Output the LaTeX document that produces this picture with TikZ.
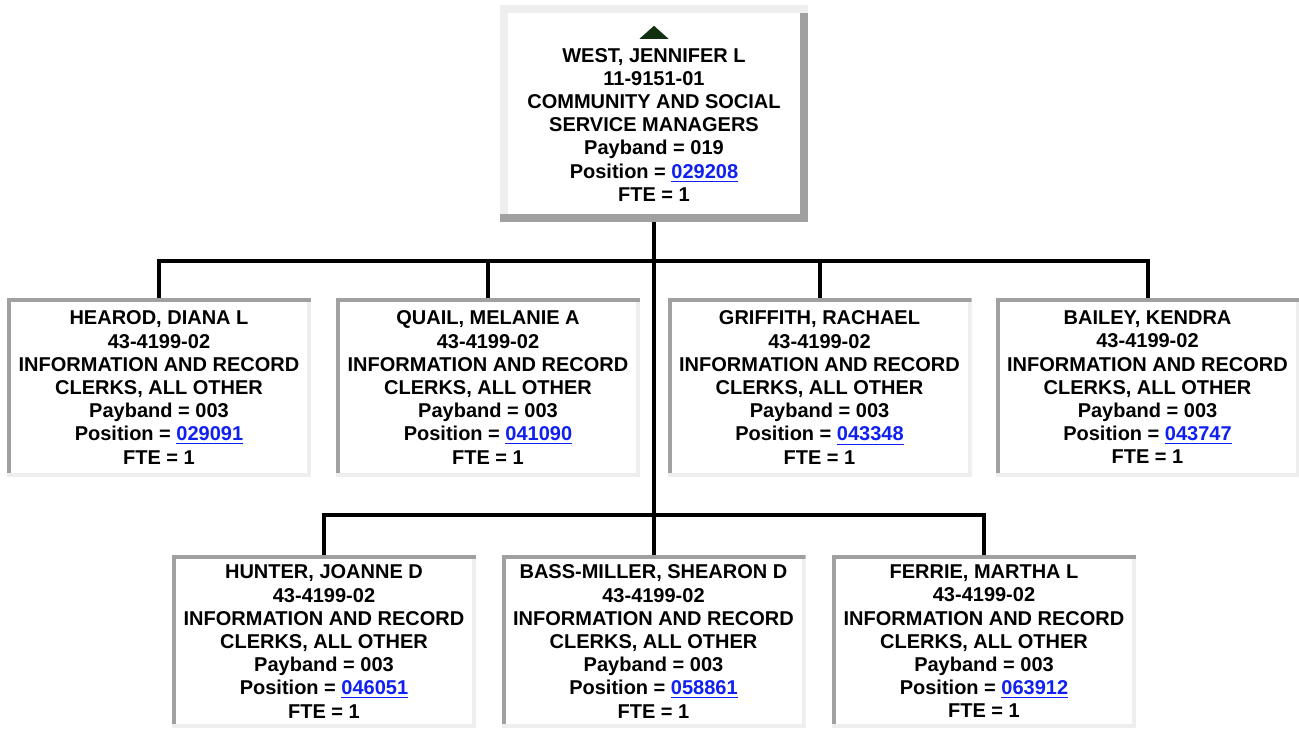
\documentclass[tikz,border=0pt]{standalone}
\usepackage{fontspec}
\setmainfont{Liberation Sans}
\usetikzlibrary{positioning}

\definecolor{bevdark}{RGB}{160,160,160}
\definecolor{bevlight}{RGB}{238,238,238}
\definecolor{linkblue}{RGB}{16,32,240}
\definecolor{markgreen}{RGB}{16,48,16}

\newcommand{\poslink}[1]{\textcolor{linkblue}{\underline{#1}}}
\newcommand{\boxfont}{\bfseries\fontsize{10}{11.6}\selectfont}

% bevelled border: top/left colour, bottom/right colour, width
\tikzset{bevel/.style n args={3}{path picture={
  \fill[#1] (path picture bounding box.north west) rectangle ([yshift=-#3]path picture bounding box.north east);
  \fill[#1] (path picture bounding box.north west) rectangle ([shift={(#3,#3)}]path picture bounding box.south west);
  \fill[#2] ([yshift=#3]path picture bounding box.south west) rectangle (path picture bounding box.south east);
  \fill[#2] ([shift={(-#3,-#3)}]path picture bounding box.north east) rectangle (path picture bounding box.south east);
}}}

\tikzstyle{manager} = [rectangle, fill=white, bevel={bevlight}{bevdark}{4pt},
minimum width=154pt, minimum height=108.5pt, align=center, inner sep=0pt, font=\boxfont]
\tikzstyle{clerk} = [rectangle, fill=white, bevel={bevdark}{bevlight}{2pt},
minimum width=152pt, minimum height=89.5pt, align=center, inner sep=0pt, font=\boxfont]
\tikzstyle{clerklow} = [clerk, minimum height=86.5pt]
\tikzstyle{line} = [draw, line width=2pt]

\begin{document}
\begin{tikzpicture}[x=0.5pt,y=-0.5pt]

\useasboundingbox (0,0) rectangle (1299,728);

% Top
\node[manager](west) at (654,113.5) {\tikz\fill[markgreen] (0,0) -- (14.5pt,0) -- (7.25pt,6.5pt) -- cycle;\\
WEST, JENNIFER L\\ 11-9151-01\\ COMMUNITY AND SOCIAL\\ SERVICE MANAGERS\\
Payband = 019\\ Position = \poslink{029208}\\ FTE = 1};

% First row of clerks
\node[clerk](hearod) at (159,387.5) {HEAROD, DIANA L\\ 43-4199-02\\ INFORMATION AND RECORD\\ CLERKS, ALL OTHER\\
Payband = 003\\ Position = \poslink{029091}\\ FTE = 1};
\node[clerk](quail) at (488,387.5) {QUAIL, MELANIE A\\ 43-4199-02\\ INFORMATION AND RECORD\\ CLERKS, ALL OTHER\\
Payband = 003\\ Position = \poslink{041090}\\ FTE = 1};
\node[clerk](griffith) at (819.5,387.5) {GRIFFITH, RACHAEL\\ 43-4199-02\\ INFORMATION AND RECORD\\ CLERKS, ALL OTHER\\
Payband = 003\\ Position = \poslink{043348}\\ FTE = 1};
\node[clerk](bailey) at (1147.5,387.5) {BAILEY, KENDRA\\ 43-4199-02\\ INFORMATION AND RECORD\\ CLERKS, ALL OTHER\\
Payband = 003\\ Position = \poslink{043747}\\ FTE = 1};

% Second row of clerks
\node[clerklow](hunter) at (324,641.5) {HUNTER, JOANNE D\\ 43-4199-02\\ INFORMATION AND RECORD\\ CLERKS, ALL OTHER\\
Payband = 003\\ Position = \poslink{046051}\\ FTE = 1};
\node[clerklow](bass) at (653.5,641.5) {BASS-MILLER, SHEARON D\\ 43-4199-02\\ INFORMATION AND RECORD\\ CLERKS, ALL OTHER\\
Payband = 003\\ Position = \poslink{058861}\\ FTE = 1};
\node[clerklow](ferrie) at (984,641.5) {FERRIE, MARTHA L\\ 43-4199-02\\ INFORMATION AND RECORD\\ CLERKS, ALL OTHER\\
Payband = 003\\ Position = \poslink{063912}\\ FTE = 1};

% Connectors
\coordinate (bus1) at (654,261);
\coordinate (bus2) at (654,515);
\path[line] (west.south) -- (bus2);
\path[line] (bus1) -| (hearod.north);
\path[line] (bus1) -| (quail.north);
\path[line] (bus1) -| (griffith.north);
\path[line] (bus1) -| (bailey.north);
\path[line] (bus2) -| (hunter.north);
\path[line] (bus2) -| (bass.north);
\path[line] (bus2) -| (ferrie.north);

\end{tikzpicture}
\end{document}
